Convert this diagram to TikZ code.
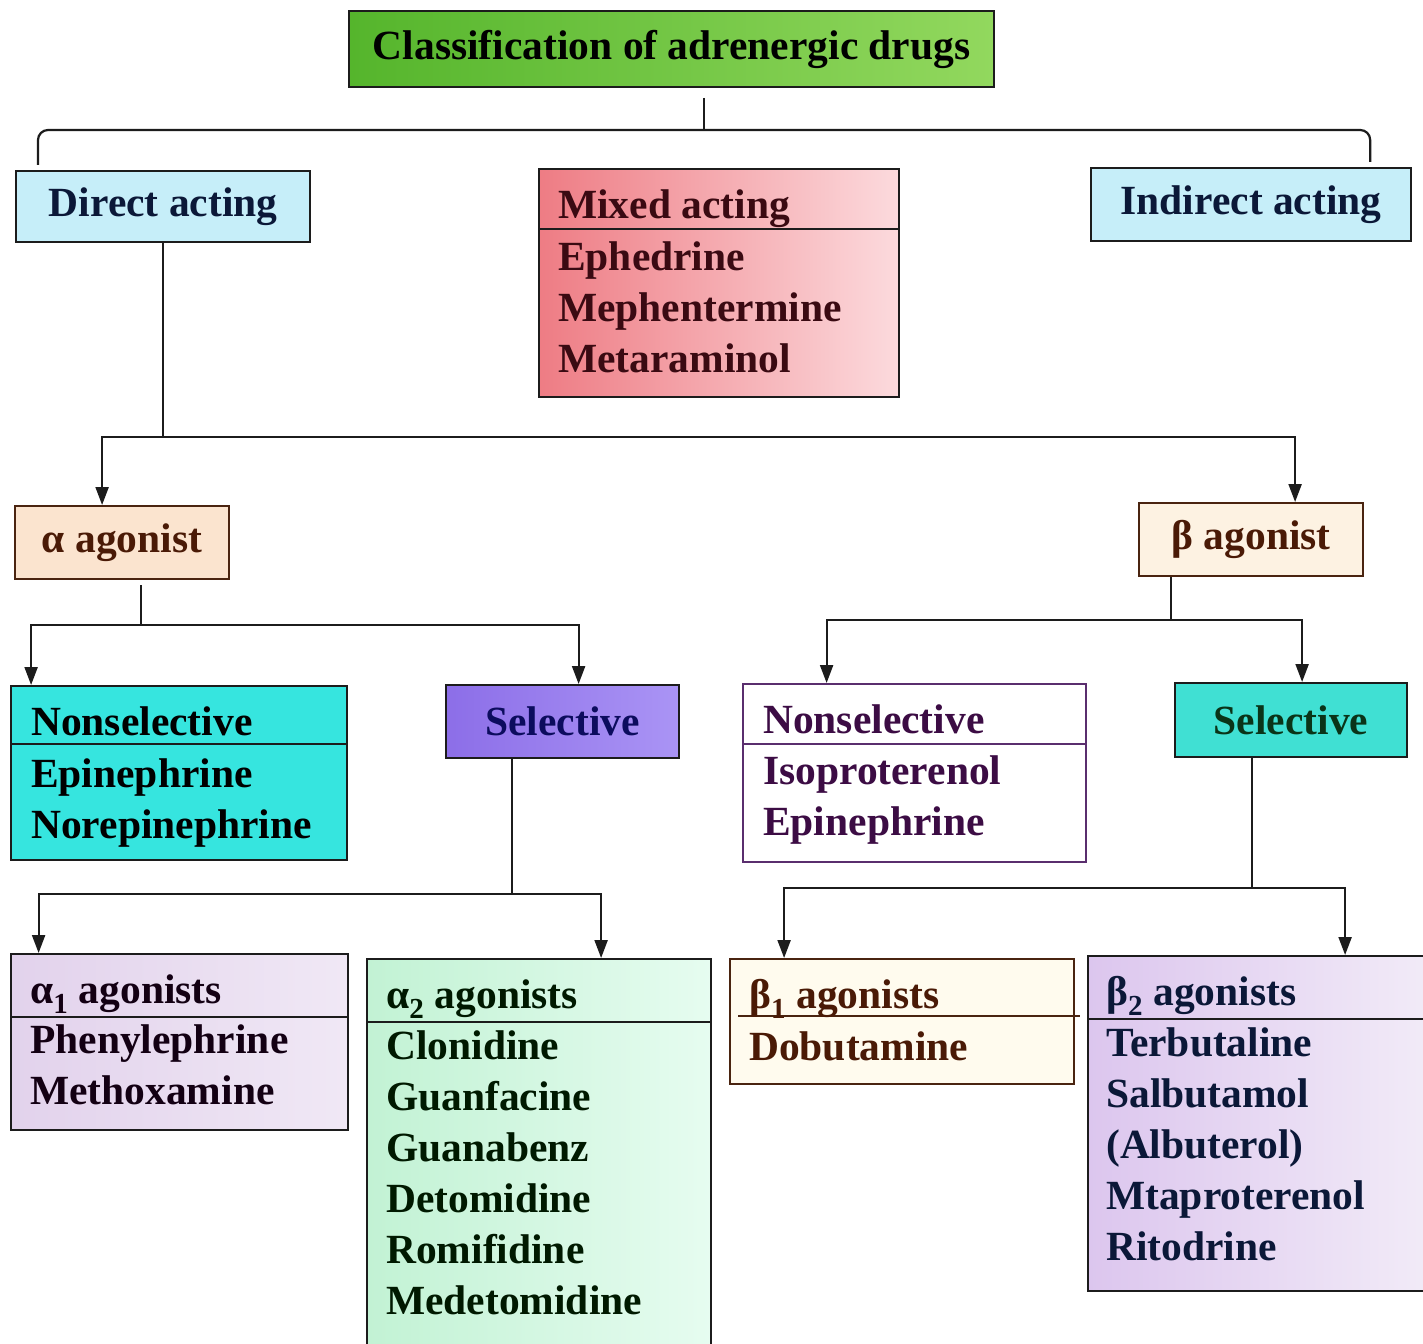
\documentclass[tikz,border=0pt]{standalone}
\usepackage{fontspec}
\setmainfont{Liberation Serif}
\usepackage{tikz}
\usetikzlibrary{arrows.meta}

\definecolor{linedark}{HTML}{1C1C1C}
\definecolor{greenL}{HTML}{55B52C}
\definecolor{greenR}{HTML}{92D85E}
\definecolor{skyblue}{HTML}{C6EEF9}
\definecolor{redL}{HTML}{EE7C84}
\definecolor{redR}{HTML}{FCDADD}
\definecolor{peach}{HTML}{FBE4CF}
\definecolor{cream}{HTML}{FDF2E2}
\definecolor{aqua}{HTML}{36E5DF}
\definecolor{violetL}{HTML}{8C6EE8}
\definecolor{violetR}{HTML}{AA94F5}
\definecolor{aquab}{HTML}{40E0D3}
\definecolor{lavL}{HTML}{E2D2EC}
\definecolor{lavR}{HTML}{F0E8F5}
\definecolor{mintL}{HTML}{C2F2D4}
\definecolor{mintR}{HTML}{E6FCF0}
\definecolor{ivory}{HTML}{FFFBEE}
\definecolor{lilacL}{HTML}{DCC6EE}
\definecolor{lilacR}{HTML}{F3EDF8}
\definecolor{navytxt}{HTML}{0B1838}
\definecolor{maroontxt}{HTML}{3A0A12}
\definecolor{browntxt}{HTML}{4A1A06}
\definecolor{indigotxt}{HTML}{0C0C5E}
\definecolor{plumtxt}{HTML}{3C0C44}
\definecolor{plumline}{HTML}{5A2E6E}
\definecolor{pinetxt}{HTML}{0A3418}
\definecolor{browline}{HTML}{4A2410}

\begin{document}
\begin{tikzpicture}[
            x=1pt, y=-1pt,
            box/.style={draw=linedark, line width=2.2pt, inner sep=0pt, anchor=north west, font=\fontsize{41.5}{51}\selectfont\bfseries},
            item/.style={anchor=base west, inner sep=0pt, font=\fontsize{41.5}{51}\selectfont\bfseries},
            rule/.style={line width=2.2pt},
            conn/.style={draw=linedark, line width=2.2pt},
            arrow/.style={conn, -{Triangle[length=18pt,width=13pt]}}
        ]
        \useasboundingbox (0,0) rectangle (1423,1343);
        \fill[white] (0,0) rectangle (1423,1343);
        \clip (0,0) rectangle (1423,1343);

        % top level
        \node[box, minimum width=645pt, minimum height=76pt, left color=greenL, right color=greenR] (title) at (348,10) {Classification of adrenergic drugs\hspace{24pt}};
        \node[box, minimum width=294pt, minimum height=71pt, fill=skyblue, text=navytxt] (direct) at (15,170) {Direct acting};
        \node[box, minimum width=360pt, minimum height=228pt, left color=redL, right color=redR] (mixed) at (538,168) {};
        \node[box, minimum width=320pt, minimum height=73pt, fill=skyblue, text=navytxt] (indirect) at (1090,167) {Indirect acting};

        \draw[rule, draw=linedark] (mixed.west |- 0,229) -- (mixed.east |- 0,229);
        \node[item, text=maroontxt] (mixed-h) at (558,218) {Mixed acting};
        \foreach \drug [count=\i] in {Ephedrine, Mephentermine, Metaraminol}
            \node[item, text=maroontxt] (mixed-\i) at (558,219+51*\i) {\drug};

        % alpha / beta
        \node[box, minimum width=214pt, minimum height=73pt, fill=peach, draw=browline, text=browntxt] (alpha) at (14,505) {α agonist};
        \node[box, minimum width=224pt, minimum height=73pt, fill=cream, draw=browline, text=browntxt] (beta) at (1138,502) {β agonist};

        \node[box, minimum width=336pt, minimum height=174pt, fill=aqua] (nsa) at (10,685) {};
        \draw[rule, draw=linedark] (nsa.west |- 0,744) -- (nsa.east |- 0,744);
        \node[item] (nsa-h) at (31,735) {Nonselective};
        \foreach \drug [count=\i] in {Epinephrine, Norepinephrine}
            \node[item] (nsa-\i) at (31,736+51*\i) {\drug};

        \node[box, minimum width=233pt, minimum height=73pt, left color=violetL, right color=violetR, text=indigotxt] (sela) at (445,684) {Selective};

        \node[box, minimum width=343pt, minimum height=178pt, fill=white, draw=plumline] (nsb) at (742,683) {};
        \draw[rule, draw=plumline] (nsb.west |- 0,744) -- (nsb.east |- 0,744);
        \node[item, text=plumtxt] (nsb-h) at (763,733) {Nonselective};
        \foreach \drug [count=\i] in {Isoproterenol, Epinephrine}
            \node[item, text=plumtxt] (nsb-\i) at (763,733+51*\i) {\drug};

        \node[box, minimum width=232pt, minimum height=74pt, fill=aquab, text=pinetxt] (selb) at (1174,682) {Selective};

        % receptor subtypes
        \node[box, minimum width=337pt, minimum height=176pt, left color=lavL, right color=lavR] (a1) at (10,953) {};
        \draw[rule, draw=linedark] (a1.west |- 0,1017) -- (a1.east |- 0,1017);
        \node[item, text=black!85!violet] (a1-h) at (30,1003) {α\textsubscript{1} agonists};
        \foreach \drug [count=\i] in {Phenylephrine, Methoxamine}
            \node[item, text=black!85!violet] (a1-\i) at (30,1002+51*\i) {\drug};

        \node[box, minimum width=344pt, minimum height=420pt, left color=mintL, right color=mintR] (a2) at (366,958) {};
        \draw[rule, draw=linedark] (a2.west |- 0,1022) -- (a2.east |- 0,1022);
        \node[item, text=black!90!green] (a2-h) at (386,1008) {α\textsubscript{2} agonists};
        \foreach \drug [count=\i] in {Clonidine, Guanfacine, Guanabenz, Detomidine, Romifidine, Medetomidine}
            \node[item, text=black!90!green] (a2-\i) at (386,1008+51*\i) {\drug};

        \node[box, minimum width=344pt, minimum height=125pt, fill=ivory, draw=browline] (b1) at (729,958) {};
        \draw[rule, draw=browline] (738,1016) -- (1080,1016);
        \node[item, text=browntxt] (b1-h) at (749,1008) {β\textsubscript{1} agonists};
        \node[item, text=browntxt] (b1-1) at (749,1060) {Dobutamine};

        \node[box, minimum width=360pt, minimum height=335pt, left color=lilacL, right color=lilacR] (b2) at (1087,955) {};
        \draw[rule, draw=linedark] (b2.west |- 0,1019) -- (b2.east |- 0,1019);
        \node[item, text=navytxt] (b2-h) at (1106,1005) {β\textsubscript{2} agonists};
        \foreach \drug [count=\i] in {Terbutaline, Salbutamol, (Albuterol), Mtaproterenol, Ritodrine}
            \node[item, text=navytxt] (b2-\i) at (1106,1005+51*\i) {\drug};

        % connectors
        \coordinate (brtop) at (704,98);
        \coordinate (brmid) at (704,130);
        \draw[conn] (brtop) -- (brmid);
        \draw[conn, rounded corners=10pt] ([shift={(23pt,5pt)}]direct.north west) |- (brmid) -| ([shift={(-42pt,5pt)}]indirect.north east);

        \coordinate (dsplit) at (direct.south |- 0,437);
        \draw[conn] (direct.south) -- (dsplit);
        \draw[arrow] (dsplit) -| ([xshift=-20pt]alpha.north);
        \draw[arrow] (dsplit) -| ([xshift=44pt]beta.north);

        \coordinate (asplit) at ([xshift=19pt]alpha.south |- 0,625);
        \draw[conn] ([shift={(19pt,-5pt)}]alpha.south) -- (asplit);
        \draw[arrow] (asplit) -| ([xshift=-148pt]nsa.north);
        \draw[arrow] (asplit) -| ([xshift=16pt]sela.north);

        \coordinate (ssplit) at ([xshift=-51pt]sela.south |- 0,894);
        \draw[conn] ([xshift=-51pt]sela.south) -- (ssplit);
        \draw[arrow] (ssplit) -| ([xshift=-141pt]a1.north);
        \draw[arrow] (ssplit) -| ([xshift=62pt]a2.north);

        \coordinate (bsplit) at ([xshift=-80pt]beta.south |- 0,620);
        \draw[conn] ([xshift=-80pt]beta.south) -- (bsplit);
        \draw[arrow] (bsplit) -| ([xshift=-88pt]nsb.north);
        \draw[arrow] (bsplit) -| ([xshift=11pt]selb.north);

        \coordinate (tsplit) at ([xshift=-39pt]selb.south |- 0,888);
        \draw[conn] ([xshift=-39pt]selb.south) -- (tsplit);
        \draw[arrow] (tsplit) -| ([xshift=-118pt]b1.north);
        \draw[arrow] (tsplit) -| ([xshift=77pt]b2.north);

        \end{tikzpicture}
\end{document}
